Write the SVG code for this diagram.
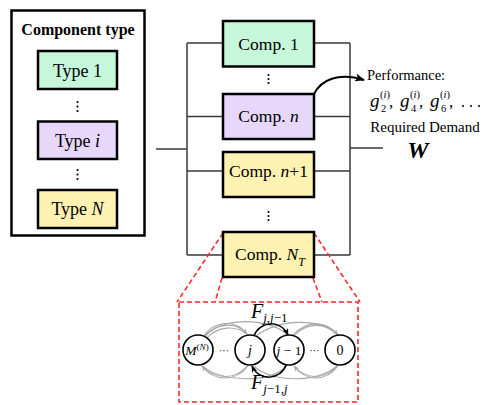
<svg xmlns="http://www.w3.org/2000/svg" width="485" height="405" viewBox="0 0 485 405">
  <defs>
    <style>
      text { font-family: "Liberation Serif", "Times New Roman", serif; fill: #000; }
      .box { stroke: #000; stroke-width: 2.5; }
      .green { fill: #C6F7DA; }
      .purple { fill: #E6D7FB; }
      .yellow { fill: #FEF2B2; }
      .wire { stroke: #3a3a3a; stroke-width: 1.5; fill: none; }
      .zoom { stroke: #FF2A2A; stroke-width: 1.6; stroke-dasharray: 5 3; fill: none; }
      .state { fill: #fff; stroke: #000; stroke-width: 1.6; }
      .trans { stroke: #000; stroke-width: 1.5; fill: none; }
      .other { stroke: #A8A8A8; stroke-width: 1.1; fill: none; }
      .dot { fill: #000; }
      .lbl { font-size: 17.5px; text-anchor: middle; }
      .tlbl { font-size: 18px; text-anchor: middle; }
      .it { font-style: italic; }
      .g { font-size: 19px; font-style: italic; }
      .sm { font-size: 10.5px; }
    </style>
    <marker id="arrow" viewBox="0 0 10 8" refX="9" refY="4" markerWidth="10" markerHeight="8" markerUnits="userSpaceOnUse" orient="auto">
      <path d="M0,0 L10,4 L0,8 L2.5,4 z" fill="#000"/>
    </marker>
    <marker id="arrowS" viewBox="0 0 10 8" refX="9" refY="4" markerWidth="7" markerHeight="6" markerUnits="userSpaceOnUse" orient="auto">
      <path d="M0,0 L10,4 L0,8 L2.5,4 z" fill="#000"/>
    </marker>
    <marker id="arrowG" viewBox="0 0 10 8" refX="9" refY="4" markerWidth="6" markerHeight="5" markerUnits="userSpaceOnUse" orient="auto">
      <path d="M0,0 L10,4 L0,8 L2.5,4 z" fill="#A8A8A8"/>
    </marker>
  </defs>

  <!-- component type legend -->
  <g id="legend">
    <rect x="11.5" y="10.5" width="133" height="225" fill="#fff" class="box"/>
    <text x="78" y="35" font-size="16" font-weight="bold" text-anchor="middle">Component type</text>
  </g>
  <g id="type1">
    <rect x="38" y="51" width="79" height="38" class="box green"/>
    <text x="77.5" y="76.5" class="tlbl">Type 1</text>
  </g>
  <g id="typei">
    <rect x="38" y="121.5" width="79" height="37.5" class="box purple"/>
    <text x="77.5" y="146.5" class="tlbl">Type <tspan class="it">i</tspan></text>
  </g>
  <g id="typeN">
    <rect x="38" y="190" width="79" height="38" class="box yellow"/>
    <text x="77.5" y="214.5" class="tlbl">Type <tspan class="it">N</tspan></text>
  </g>
  <g id="legend-dots">
    <circle cx="77.5" cy="102" r="1.1" class="dot"/>
    <circle cx="77.5" cy="106.5" r="1.1" class="dot"/>
    <circle cx="77.5" cy="111" r="1.1" class="dot"/>
    <circle cx="77.5" cy="170" r="1.1" class="dot"/>
    <circle cx="77.5" cy="174.5" r="1.1" class="dot"/>
    <circle cx="77.5" cy="179" r="1.1" class="dot"/>
  </g>

  <!-- parallel system wiring -->
  <g id="connectors">
    <path class="wire" d="M156,149 H187 M187,43 V255 M350,43 V255 M350,148 H383"/>
    <path class="wire" d="M187,43 H223 M314,43 H350"/>
    <path class="wire" d="M187,116.5 H223 M314,116.5 H350"/>
    <path class="wire" d="M187,171 H223 M314,171 H350"/>
    <path class="wire" d="M187,255 H223 M314,255 H350"/>
    <path d="M314,94 C321,80 338,72 364,80" stroke="#000" stroke-width="2" fill="none" marker-end="url(#arrow)"/>
    <path class="zoom" d="M223,233 L177,302 M314,233 L360,302 M222,278 L215,302 M313,278 L322,302"/>
  </g>

  <g id="comp1">
    <rect x="223" y="21" width="91" height="45.5" class="box green"/>
    <text x="268.5" y="49.5" class="lbl">Comp. 1</text>
  </g>
  <g id="compn">
    <rect x="223" y="94" width="91" height="45" class="box purple"/>
    <text x="268.5" y="122" class="lbl">Comp. <tspan class="it">n</tspan></text>
  </g>
  <g id="compn1">
    <rect x="223" y="152" width="91" height="45" class="box yellow"/>
    <text x="268.5" y="177" class="lbl">Comp. <tspan class="it">n</tspan>+1</text>
  </g>
  <g id="compNT">
    <rect x="223" y="232" width="91" height="45" class="box yellow"/>
    <text x="270" y="260" class="lbl">Comp. <tspan class="it">N</tspan><tspan class="it" font-size="12" dy="6">T</tspan></text>
  </g>
  <g id="comp-dots">
    <circle cx="268.5" cy="75" r="1.1" class="dot"/>
    <circle cx="268.5" cy="79" r="1.1" class="dot"/>
    <circle cx="268.5" cy="83" r="1.1" class="dot"/>
    <circle cx="268.5" cy="212" r="1.1" class="dot"/>
    <circle cx="268.5" cy="216" r="1.1" class="dot"/>
    <circle cx="268.5" cy="220" r="1.1" class="dot"/>
  </g>

  <!-- performance and demand labels -->
  <g id="performance">
    <text x="367" y="80" font-size="14.5">Performance:</text>
    <text x="370" y="107" class="g">g</text>
    <text x="380" y="98" class="sm">(<tspan class="it">i</tspan>)</text>
    <text x="381" y="112" class="sm">2</text>
    <text x="389" y="107" font-size="17">,</text>
    <text x="400" y="107" class="g">g</text>
    <text x="410" y="98" class="sm">(<tspan class="it">i</tspan>)</text>
    <text x="411" y="112" class="sm">4</text>
    <text x="419" y="107" font-size="17">,</text>
    <text x="430" y="107" class="g">g</text>
    <text x="440" y="98" class="sm">(<tspan class="it">i</tspan>)</text>
    <text x="441" y="112" class="sm">6</text>
    <text x="449" y="107" font-size="17">,</text>
    <circle cx="463" cy="106" r="1" class="dot"/>
    <circle cx="471" cy="106" r="1" class="dot"/>
    <circle cx="479" cy="106" r="1" class="dot"/>
  </g>
  <g id="demand">
    <text x="425" y="132" font-size="15" text-anchor="middle">Required Demand</text>
    <text x="418" y="158" font-size="24" font-weight="bold" font-style="italic" text-anchor="middle">W</text>
  </g>

  <!-- multi-state component detail -->
  <g id="detail">
    <rect x="179" y="302" width="179" height="100" class="zoom"/>
  </g>
  <g id="transitions">
    <!-- downward jumps (above) -->
    <path class="other" d="M205,337 C215,323 236,321 247,334" marker-end="url(#arrowG)"/>
    <path class="other" d="M203,337 C214,320 236,319 247,334"/>
    <path class="other" d="M207,338 C218,326 235,325 247,334"/>
    <path class="other" d="M204,336 C225,316 268,318 288,335"/>
    <path class="other" d="M256,336 C280,318 320,318 338,335"/>
    <path class="other" d="M294,336 C306,322 326,322 338,335" marker-end="url(#arrowG)"/>
    <path class="other" d="M292,336 C306,320 326,320 338,335"/>
    <!-- upward jumps (below) -->
    <path class="other" d="M247,366 C236,380 214,380 202,366" marker-end="url(#arrowG)"/>
    <path class="other" d="M248,366 C236,382 214,382 202,366"/>
    <path class="other" d="M287,366 C268,384 222,382 202,366"/>
    <path class="other" d="M337,366 C326,380 306,380 294,366" marker-end="url(#arrowG)"/>
    <path class="other" d="M338,366 C326,382 306,382 294,366"/>
    <path class="other" d="M337,366 C316,384 270,382 254,366"/>
    <!-- adjacent transitions -->
    <path class="trans" d="M254,336 C259,321 281,319 288,335" marker-end="url(#arrowS)"/>
    <path class="trans" d="M286,365 C281,380 259,382 252,366" marker-end="url(#arrowS)"/>
  </g>
  <g id="stateM">
    <circle cx="198" cy="350" r="15" class="state"/>
    <text x="197" y="355" font-size="13.5" text-anchor="middle"><tspan class="it">M</tspan><tspan font-size="9" dy="-5">(<tspan class="it">N</tspan>)</tspan></text>
  </g>
  <g id="statej">
    <circle cx="250" cy="350" r="15" class="state"/>
    <text x="250" y="355" font-size="14" text-anchor="middle" class="it">j</text>
  </g>
  <g id="statej1">
    <circle cx="289" cy="350" r="15" class="state"/>
    <text x="289" y="355" font-size="13.5" text-anchor="middle"><tspan class="it">j</tspan> − 1</text>
  </g>
  <g id="state0">
    <circle cx="340" cy="350" r="15" class="state"/>
    <text x="340" y="355" font-size="14" text-anchor="middle">0</text>
  </g>
  <g id="state-dots">
    <text x="224" y="354" font-size="10" text-anchor="middle">···</text>
    <text x="314.5" y="354" font-size="10" text-anchor="middle">···</text>
  </g>
  <g id="rates">
    <text x="251" y="318" font-size="20"><tspan class="it">F</tspan><tspan font-size="13" dy="4"><tspan class="it">j</tspan>,<tspan class="it">j</tspan>−1</tspan></text>
    <text x="251" y="389" font-size="20"><tspan class="it">F</tspan><tspan font-size="13" dy="4"><tspan class="it">j</tspan>−1,<tspan class="it">j</tspan></tspan></text>
  </g>
</svg>
